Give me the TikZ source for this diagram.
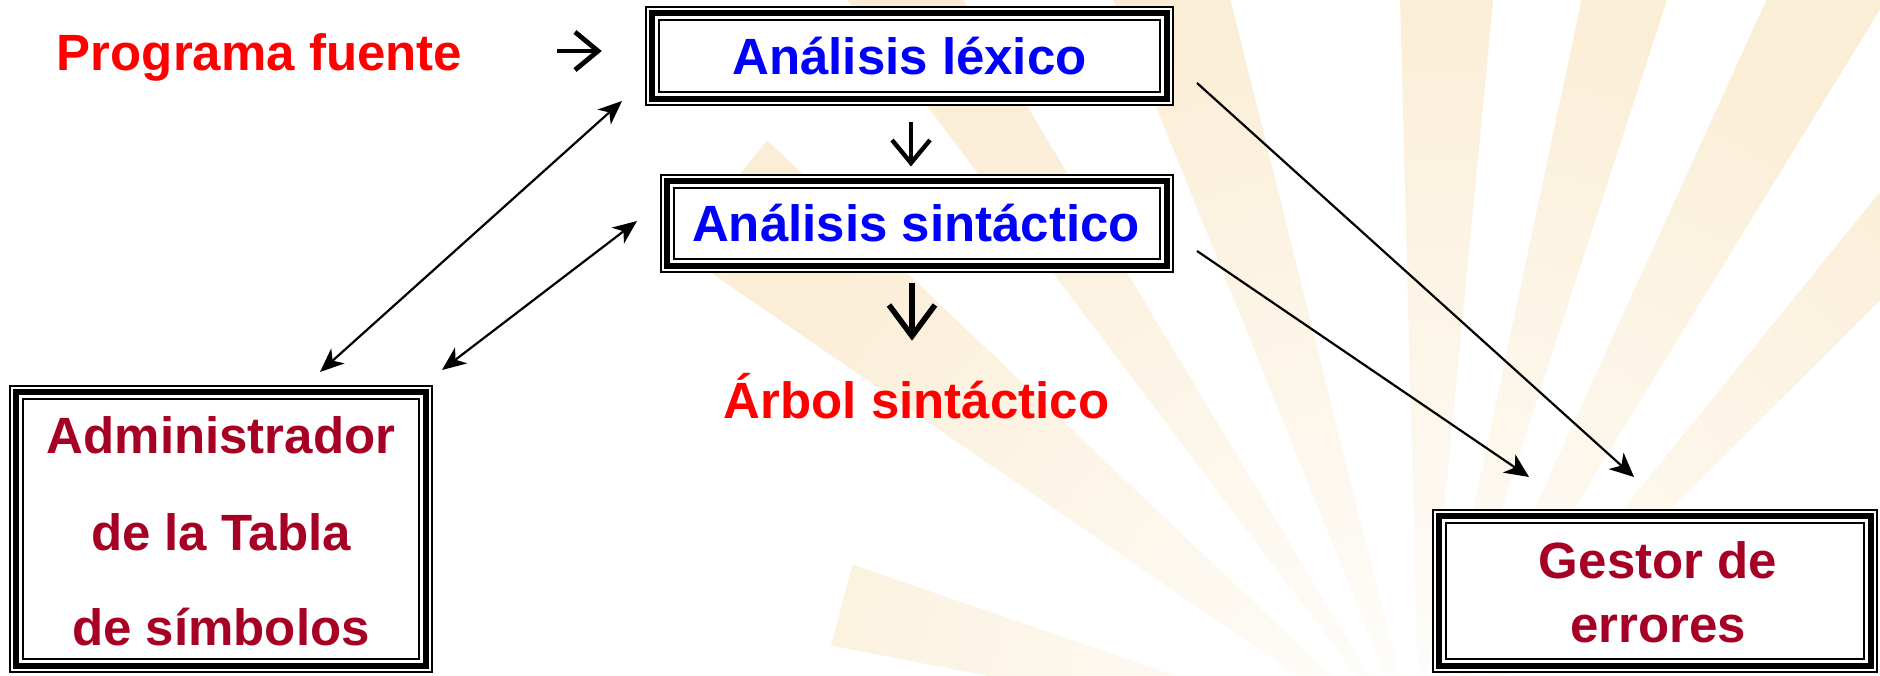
\documentclass[tikz,border=0pt]{standalone}
\usepackage{fontspec}
\setmainfont{Liberation Sans}
\usetikzlibrary{arrows.meta,fadings}
\definecolor{cred}{RGB}{255,0,0}
\definecolor{cblue}{RGB}{0,0,255}
\definecolor{cmaroon}{RGB}{166,0,36}
\definecolor{beige}{RGB}{251,238,214}
\pgfdeclareradialshading{ringshade}{\pgfpointorigin}{color(0bp)=(white); color(15bp)=(black); color(25bp)=(black); color(40bp)=(white); color(50bp)=(white)}
\pgfdeclarefading{ringfade}{\pgfuseshading{ringshade}}
\tikzset{
  txt/.style={font=\fontsize{25.5pt}{30pt}\selectfont\bfseries, inner sep=0pt, anchor=base},
  tribox/.style={fill=white, inner sep=0pt, outer sep=0pt,
    path picture={
      \draw[line width=0.9pt] ([shift={(1,1)}]path picture bounding box.north west) rectangle ([shift={(-1,-1)}]path picture bounding box.south east);
      \draw[line width=3pt] ([shift={(7,7)}]path picture bounding box.north west) rectangle ([shift={(-7,-7)}]path picture bounding box.south east);
      \draw[line width=1pt] ([shift={(14,14)}]path picture bounding box.north west) rectangle ([shift={(-14,-14)}]path picture bounding box.south east);
    }},
  conn/.style={line width=1.1pt, -{Stealth[length=12pt,width=11pt,inset=3.5pt]}},
  dconn/.style={line width=1.1pt, {Stealth[length=12pt,width=10pt,inset=3.5pt]}-{Stealth[length=12pt,width=10pt,inset=3.5pt]}},
  chev/.style={line join=miter, line cap=butt}
}
\begin{document}
\begin{tikzpicture}[x=0.5pt,y=-0.5pt]
\useasboundingbox (0,0) rectangle (1880,675);
\fill[white] (0,0) rectangle (1880,675);
% faint background sunburst
\begin{scope}
\clip (0,0) rectangle (1880,675);
\coordinate (sun) at (1420,760);
\foreach \t/\w/\r in {165/4/600, 141/4.5/900, 124/3/1050, 108/4/1200, 88/3.5/1200, 75/3/1200, 62/3.5/1200, 48/3/1200}{
  \fill[beige] (sun) -- +({-(\t-\w)}:\r) -- +({-(\t+\w)}:\r) -- cycle;
}
\fill[white, path fading=ringfade] (sun) circle (1300);
\end{scope}

% boxes
\node[tribox, minimum width=264.5pt, minimum height=50pt] (lexB) at (909.5,56) {};
\node[txt, text=cblue] (lexT) at (909.5,74) {Análisis léxico};
\node[tribox, minimum width=257pt, minimum height=49.5pt] (sinB) at (917,223.5) {};
\node[txt, text=cblue] (sinT) at (916,241.5) {Análisis sintáctico};
\node[tribox, minimum width=212pt, minimum height=144pt] (admB) at (221,529) {};
\node[txt, text=cmaroon] (admT1) at (221,453) {Administrador};
\node[txt, text=cmaroon] (admT2) at (221,550) {de la Tabla};
\node[txt, text=cmaroon] (admT3) at (221,645) {de símbolos};
\node[tribox, minimum width=223pt, minimum height=82pt] (gesB) at (1655,591) {};
\node[txt, text=cmaroon] (gesT1) at (1658,578) {Gestor de};
\node[txt, text=cmaroon] (gesT2) at (1658,642) {errores};

% plain labels
\node[txt, text=cred] (pf) at (259.5,70) {Programa fuente};
\node[txt, text=cred] (arb) at (916.5,418) {Árbol sintáctico};

% chevron arrows
\coordinate (r1a) at (557,51); \coordinate (r1b) at (598,51);
\draw[chev, line width=2.4pt] (r1a) -- (r1b);
\draw[chev, line width=2.4pt] ([shift={(-23,-19)}]r1b) -- (r1b) -- ([shift={(-23,19)}]r1b);
\coordinate (v1a) at (911,122); \coordinate (v1b) at (911,163);
\draw[chev, line width=2.2pt] (v1a) -- (v1b);
\draw[chev, line width=2.2pt] ([shift={(-19,-23)}]v1b) -- (v1b) -- ([shift={(19,-23)}]v1b);
\coordinate (v2a) at (912,283); \coordinate (v2b) at (912,336);
\draw[chev, line width=2.8pt] (v2a) -- (v2b);
\draw[chev, line width=2.8pt] ([shift={(-23,-31)}]v2b) -- (v2b) -- ([shift={(23,-31)}]v2b);

% connectors
\coordinate (c1a) at (1197,83); \coordinate (c1b) at (1634,477);
\coordinate (c2a) at (1197,251); \coordinate (c2b) at (1529,477);
\coordinate (d1a) at (320,372); \coordinate (d1b) at (622,101);
\coordinate (d2a) at (442,370); \coordinate (d2b) at (637,221);
\draw[conn] (c1a) -- (c1b);
\draw[conn] (c2a) -- (c2b);
\draw[dconn] (d1a) -- (d1b);
\draw[dconn] (d2a) -- (d2b);
\end{tikzpicture}
\end{document}
